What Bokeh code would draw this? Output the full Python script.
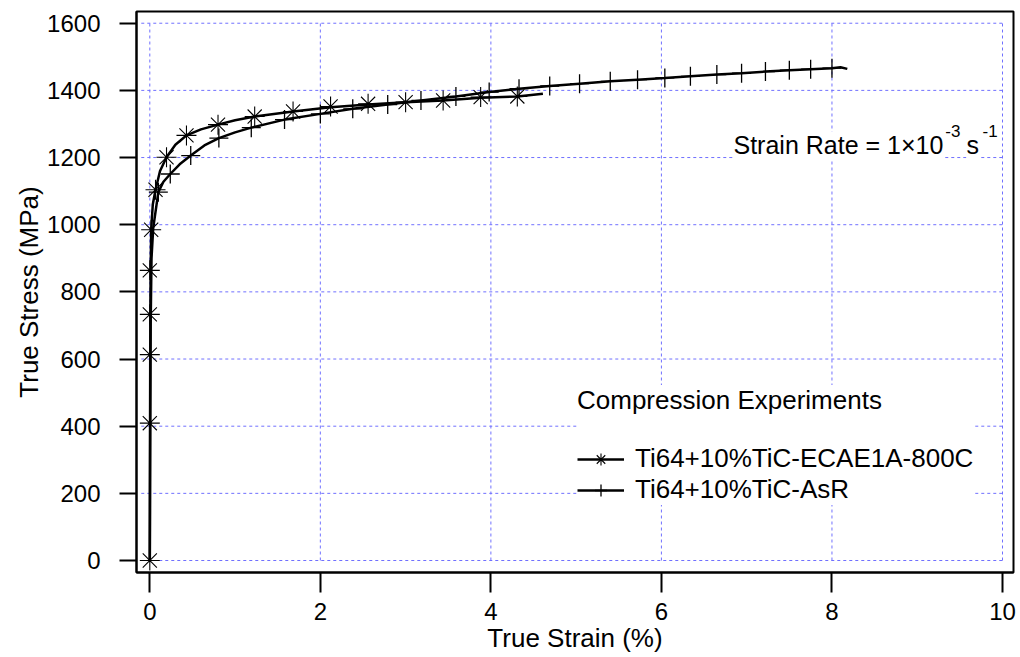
from bokeh.plotting import figure
from bokeh.models import FixedTicker, Range1d, Legend, LegendItem, Label
from bokeh.embed import file_html
from bokeh.resources import INLINE

# ---------------- data ----------------
x_ticks = [0, 2, 4, 6, 8, 10]
y_ticks = [0, 200, 400, 600, 800, 1000, 1200, 1400, 1600]

# Ti64+10%TiC-ECAE1A-800C : curve
ecae_line_x = [0, 0.003, 0.005, 0.007, 0.01, 0.016, 0.035, 0.067, 0.12, 0.196, 0.3, 0.43,
               0.6, 0.8, 1.0, 1.23, 1.68, 2.12, 2.56, 3.0, 3.44, 3.88, 4.31, 4.61]
ecae_line_y = [0, 409, 613, 733, 864, 985, 1060, 1104, 1160, 1201, 1238, 1266,
               1284, 1298, 1311, 1322, 1337, 1350, 1358, 1365, 1370, 1378, 1382, 1390]
# markers
ecae_mark_x = [0, 0, 0, 0, 0, 0.016, 0.067, 0.196, 0.43, 0.8, 1.23, 1.68, 2.12, 2.56,
               3.0, 3.44, 3.88, 4.31]
ecae_mark_y = [0, 409, 613, 733, 864, 985, 1104, 1201, 1266, 1298, 1322, 1337, 1352, 1360,
               1365, 1370, 1380, 1382]

# Ti64+10%TiC-AsR : curve
asr_line_x = [0, 0.005, 0.01, 0.02, 0.04, 0.1, 0.16, 0.24, 0.35, 0.48, 0.64, 0.81, 1.0,
              1.19, 1.58, 2.0, 2.38, 2.79, 3.18, 3.59, 3.98, 4.33, 4.69, 5.04, 5.4, 5.72,
              6.04, 6.34, 6.65, 6.94, 7.22, 7.5, 7.75, 8.0, 8.1, 8.18]
asr_line_y = [0, 400, 700, 900, 990, 1097, 1128, 1151, 1180, 1206, 1236, 1258, 1275,
              1289, 1313, 1330, 1345, 1358, 1370, 1382, 1395, 1405, 1413, 1420, 1427, 1432,
              1437, 1442, 1447, 1451, 1456, 1460, 1463, 1466, 1469, 1464]
# markers
asr_mark_x = [0.1, 0.24, 0.48, 0.81, 1.19, 1.58, 2.0, 2.38, 2.79, 3.18, 3.59, 3.98, 4.33,
              4.69, 5.04, 5.4, 5.72, 6.04, 6.34, 6.65, 6.94, 7.22, 7.5, 7.75, 8.0]
asr_mark_y = [1097, 1151, 1206, 1258, 1289, 1313, 1330, 1345, 1358, 1370, 1382, 1395, 1405,
              1413, 1420, 1427, 1432, 1437, 1442, 1447, 1451, 1456, 1460, 1463, 1466]

FONT = "Liberation Sans"
GRID = "#7070ff"

p = figure(width=1020, height=657, title=None,
           x_range=Range1d(-0.156, 10.129), y_range=Range1d(-35.7, 1634.9),
           output_backend="svg", toolbar_location=None,
           min_border_left=136, min_border_right=7, min_border_top=11, min_border_bottom=85)
p.xgrid.grid_line_color = None
p.ygrid.grid_line_color = None
p.background_fill_color = "white"
p.border_fill_color = "white"
p.outline_line_color = "black"
p.outline_line_width = 2
p.outline_line_alpha = 1

# bounded dashed grid
p.segment(x0=[-0.1] * len(y_ticks), x1=[x_ticks[-1]] * len(y_ticks), y0=y_ticks, y1=y_ticks,
          line_color=GRID, line_width=1, line_dash="3 3")
p.segment(x0=x_ticks, x1=x_ticks, y0=[y_ticks[0]] * len(x_ticks), y1=[y_ticks[-1]] * len(x_ticks),
          line_color=GRID, line_width=1, line_dash="3 3")

l1 = p.line(ecae_line_x, ecae_line_y, line_color="black", line_width=2.5)
s1 = p.scatter(ecae_mark_x, ecae_mark_y, marker="asterisk", size=20, line_color="black",
               line_width=1.1)
l2 = p.line(asr_line_x, asr_line_y, line_color="black", line_width=2.5)
s2 = p.scatter(asr_mark_x, asr_mark_y, marker="cross", size=19, line_color="black",
               line_width=1.3)

for ax, ticks, tout, stand in ((p.xaxis, x_ticks, 20, 10), (p.yaxis, y_ticks, 17, 19)):
    ax.ticker = FixedTicker(ticks=ticks)
    ax.major_tick_out = tout
    ax.major_tick_in = 0
    ax.minor_tick_line_color = None
    ax.major_tick_line_width = 2
    ax.major_tick_line_color = "black"
    ax.axis_line_width = 2
    ax.axis_line_color = "black"
    ax.major_label_text_font = FONT
    ax.major_label_text_font_size = "24px"
    ax.major_label_text_color = "black"
    ax.major_label_standoff = stand
    ax.axis_label_text_font = FONT
    ax.axis_label_text_font_size = "26px"
    ax.axis_label_text_font_style = "normal"
    ax.axis_label_text_color = "black"
    ax.axis_label_standoff = 0

p.xaxis.axis_label = "True Strain (%)"
p.yaxis.axis_label = "True Stress (MPa)"

legend = Legend(items=[LegendItem(label="Ti64+10%TiC-ECAE1A-800C", renderers=[l1, s1]),
                       LegendItem(label="Ti64+10%TiC-AsR", renderers=[l2, s2])],
                location=(441, 67), title="Compression Experiments",
                title_text_font=FONT, title_text_font_size="26px", title_text_font_style="normal",
                title_text_color="black", title_standoff=27,
                label_text_font=FONT, label_text_font_size="26px", label_text_color="black",
                glyph_width=47, glyph_height=30, label_height=30, label_standoff=11,
                spacing=0, padding=2, margin=0, border_line_color=None,
                background_fill_color="white", background_fill_alpha=1)
p.add_layout(legend)

# strain-rate annotation
def lab(x, y, text, size):
    p.add_layout(Label(x=x, y=y, text=text, text_font=FONT, text_font_size=size,
                       text_color="black", text_baseline="alphabetic", text_align="left",
                       background_fill_color="white", background_fill_alpha=1))

lab(6.845, 1236, "Strain Rate = 1×10", "25px")
lab(9.33, 1280, "-3", "17px")
lab(9.578, 1236, "s", "25px")
lab(9.766, 1280, "-1", "17px")

open("out.html", "w").write(file_html(p, INLINE))
